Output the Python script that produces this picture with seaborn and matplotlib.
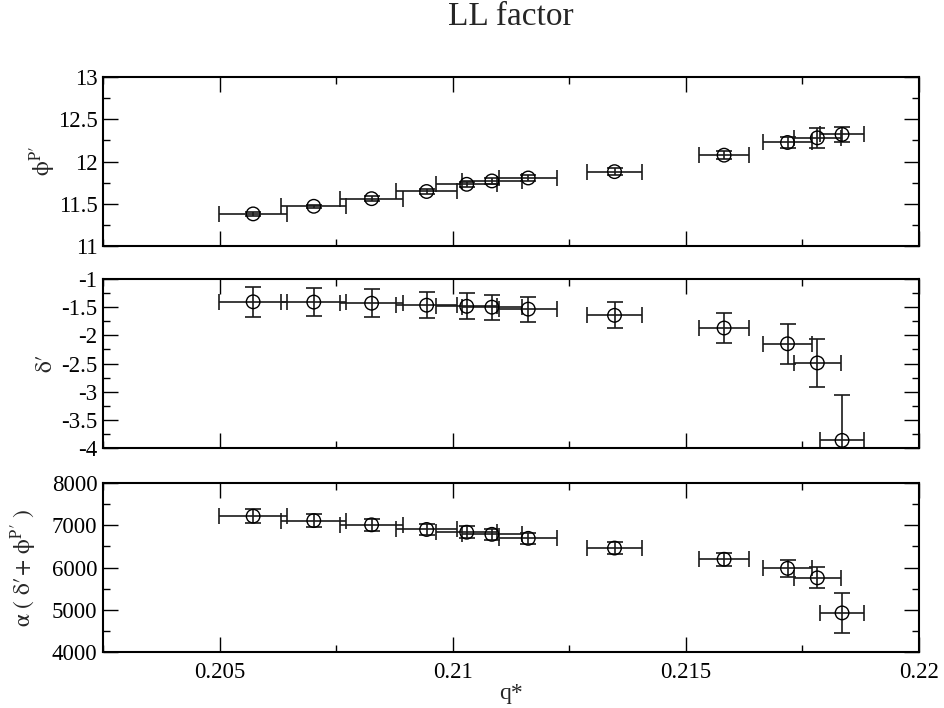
import numpy as np
import pandas as pd
import matplotlib
matplotlib.use("Agg")
import matplotlib.pyplot as plt
from matplotlib.ticker import MultipleLocator, AutoMinorLocator, FuncFormatter
import seaborn as sns

# dados
q_star = [0.20572, 0.20702, 0.20826, 0.20944, 0.21030, 0.21084,
          0.21162, 0.21347, 0.21582, 0.21718, 0.21782, 0.21835]
q_err = [0.00073, 0.00070, 0.00068, 0.00066, 0.00065, 0.00064,
         0.00062, 0.00059, 0.00054, 0.00052, 0.00050, 0.00048]

phi_p = [11.38, 11.47, 11.56, 11.645, 11.73, 11.77,
         11.805, 11.88, 12.075, 12.225, 12.28, 12.32]
phi_p_err = [0.02, 0.02, 0.03, 0.03, 0.03, 0.04,
             0.04, 0.04, 0.05, 0.06, 0.12, 0.09]

delta_p = [-1.405, -1.41, -1.43, -1.465, -1.485, -1.50,
           -1.535, -1.645, -1.87, -2.15, -2.49, -3.865]
delta_p_err = [0.27, 0.25, 0.245, 0.235, 0.23, 0.22,
               0.22, 0.23, 0.26, 0.35, 0.43, 0.81]

alpha_sum = [7215, 7110, 7010, 6900, 6835, 6785,
             6690, 6460, 6195, 5980, 5755, 4925]
alpha_sum_err = [170, 150, 142, 140, 138, 138,
                 130, 138, 154, 197, 252, 477]

df = pd.DataFrame({"q": q_star, "q_err": q_err,
                   "phi": phi_p, "phi_err": phi_p_err,
                   "delta": delta_p, "delta_err": delta_p_err,
                   "asum": alpha_sum, "asum_err": alpha_sum_err})

sns.set_theme(style="ticks")
plt.rcParams["font.family"] = ["Liberation Serif", "DejaVu Serif"]
plt.rcParams["mathtext.fontset"] = "stix"

fig = plt.figure(figsize=(9.45, 7.08), dpi=100)
left, width, height = 103 / 945, 816 / 945, 169 / 708
bottoms = [1 - 246 / 708, 1 - 448 / 708, 1 - 652 / 708]

# (coluna, erro, limites, passo maior, passo menor, rotulo, posicao x do rotulo)
paineis = [
    ("phi", "phi_err", (11, 13), 0.5, 0.25,
     r"$\mathrm{\phi}^{\mathrm{P}\prime}$", -0.055),
    ("delta", "delta_err", (-4, -1), 0.5, 0.25,
     r"$\mathrm{\delta}\prime$", -0.056),
    ("asum", "asum_err", (4000, 8000), 1000, 500,
     r"$\mathrm{\alpha}\ (\ \mathrm{\delta}\prime\!+\,\mathrm{\phi}^{\mathrm{P}\prime}\ )$", -0.078),
]

fmt = FuncFormatter(lambda v, p: "%g" % round(v, 6))

for i, (col, ecol, ylim, maj, mnr, lab, lx) in enumerate(paineis):
    ax = fig.add_axes([left, bottoms[i], width, height])
    ax.errorbar(df["q"], df[col], xerr=df["q_err"], yerr=df[ecol], fmt="none",
                ecolor="#1a1a1a", elinewidth=1.2, capsize=5.5, capthick=1.2, zorder=2)
    sns.scatterplot(data=df, x="q", y=col, ax=ax, marker="o", s=95,
                    facecolors="none", edgecolor="black", linewidth=1.0, zorder=3)
    ax.set_xlim(0.2025, 0.22)
    ax.set_ylim(*ylim)
    ax.xaxis.set_major_locator(MultipleLocator(0.005))
    ax.xaxis.set_minor_locator(AutoMinorLocator(2))
    ax.yaxis.set_major_locator(MultipleLocator(maj))
    ax.yaxis.set_minor_locator(MultipleLocator(mnr))
    ax.xaxis.set_major_formatter(fmt)
    ax.yaxis.set_major_formatter(fmt)
    ax.tick_params(which="both", direction="in", top=True, right=True,
                   colors="black", labelsize=16.5)
    ax.tick_params(axis="y", pad=4)
    ax.tick_params(axis="x", pad=7)
    ax.tick_params(which="major", length=11, width=1.0)
    ax.tick_params(which="minor", length=5.3, width=1.0)
    for s in ax.spines.values():
        s.set_linewidth(1.5)
        s.set_color("black")
    ax.set_ylabel(lab, fontsize=17)
    ax.yaxis.set_label_coords(lx, 0.5)
    if i < 2:
        ax.set_xlabel("")
        ax.tick_params(labelbottom=False)
    else:
        ax.set_xlabel("q*", fontsize=17, labelpad=0)

fig.text(511 / 945, 1 - 17 / 708, "LL factor", ha="center", va="center", fontsize=24)

fig.savefig("out.png", dpi=100)
